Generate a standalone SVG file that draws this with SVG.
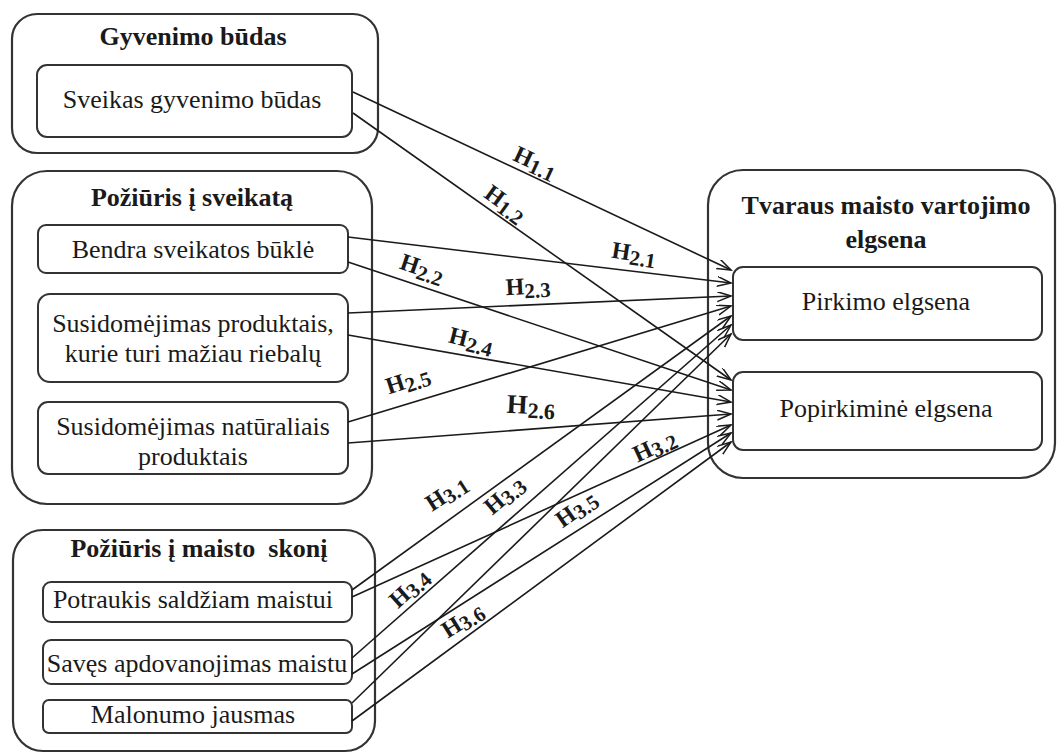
<svg xmlns="http://www.w3.org/2000/svg" width="1057" height="756" viewBox="0 0 1057 756">
<defs>
<style>
.outer{fill:none;stroke:#333;stroke-width:2.2}
.inner{fill:#fff;stroke:#333;stroke-width:2}
text{font-family:'Liberation Serif','Times New Roman','DejaVu Serif',serif}
.t{font-size:26px;fill:#1a1a1a;text-anchor:middle}
.b{font-weight:bold}
.con line{stroke:#1a1a1a;stroke-width:1.6;marker-end:url(#ah)}
.lbl{font-size:24px;font-weight:bold;fill:#1a1a1a;text-anchor:middle}
.sub{font-size:21px}
</style>
<marker id="ah" markerUnits="userSpaceOnUse" markerWidth="16" markerHeight="12" refX="14" refY="5" orient="auto">
<path d="M0,0 L14,5 L0,10" fill="none" stroke="#1a1a1a" stroke-width="1.5"/>
</marker>
</defs>
<rect width="1057" height="756" fill="#fff"/>

<g id="group-gyvenimo">
<rect class="outer" x="12" y="14" width="366" height="139" rx="25"/>
<text class="t b" x="193" y="45">Gyvenimo būdas</text>
</g>
<g id="node-sveikas">
<rect class="inner" x="37" y="65" width="315" height="72" rx="10"/>
<text class="t" x="192" y="108">Sveikas gyvenimo būdas</text>
</g>

<g id="group-poziuris-sveikata">
<rect class="outer" x="12" y="171" width="360" height="333" rx="35"/>
<text class="t b" x="192" y="206">Požiūris į sveikatą</text>
</g>
<g id="node-bendra">
<rect class="inner" x="38" y="225" width="310" height="48" rx="8"/>
<text class="t" x="193" y="258">Bendra sveikatos būklė</text>
</g>
<g id="node-riebalu">
<rect class="inner" x="38" y="294" width="310" height="88" rx="12"/>
<text class="t" x="193" y="332">Susidomėjimas produktais,</text>
<text class="t" x="193" y="362">kurie turi mažiau riebalų</text>
</g>
<g id="node-naturaliais">
<rect class="inner" x="38" y="402" width="310" height="72" rx="10"/>
<text class="t" x="193" y="435">Susidomėjimas natūraliais</text>
<text class="t" x="193" y="465">produktais</text>
</g>

<g id="group-poziuris-skoni">
<rect class="outer" x="13" y="530" width="362" height="221" rx="30"/>
<text class="t b" x="199" y="557" xml:space="preserve">Požiūris į maisto  skonį</text>
</g>
<g id="node-potraukis">
<rect class="inner" x="43" y="582" width="309" height="40" rx="8"/>
<text class="t" x="193" y="608">Potraukis saldžiam maistui</text>
</g>
<g id="node-saves">
<rect class="inner" x="43" y="640" width="309" height="44" rx="8"/>
<text class="t" x="197" y="672">Savęs apdovanojimas maistu</text>
</g>
<g id="node-malonumo">
<rect class="inner" x="43" y="700" width="309" height="33" rx="6"/>
<text class="t" x="193" y="723">Malonumo jausmas</text>
</g>

<g id="group-tvaraus">
<rect class="outer" x="708" y="170" width="347" height="308" rx="35"/>
<text class="t b" x="886" y="214">Tvaraus maisto vartojimo</text>
<text class="t b" x="886" y="248">elgsena</text>
</g>
<g id="node-pirkimo">
<rect class="inner" x="733" y="267" width="309" height="73" rx="10"/>
<text class="t" x="886" y="310">Pirkimo elgsena</text>
</g>
<g id="node-popirkimine">
<rect class="inner" x="733" y="372" width="309" height="78" rx="10"/>
<text class="t" x="886" y="417">Popirkiminė elgsena</text>
</g>

<g id="connectors" class="con">
<line x1="353" y1="92" x2="731" y2="270"/>
<line x1="353" y1="113" x2="731" y2="380"/>
<line x1="348" y1="237" x2="731" y2="283"/>
<line x1="348" y1="262" x2="731" y2="390"/>
<line x1="348" y1="313" x2="731" y2="296"/>
<line x1="348" y1="335" x2="731" y2="402"/>
<line x1="348" y1="422" x2="731" y2="306"/>
<line x1="348" y1="443" x2="731" y2="414"/>
<line x1="352" y1="590" x2="731" y2="316"/>
<line x1="352" y1="597" x2="731" y2="425"/>
<line x1="352" y1="658" x2="731" y2="325"/>
<line x1="352" y1="674" x2="731" y2="433"/>
<line x1="352" y1="703" x2="731" y2="334"/>
<line x1="352" y1="721" x2="731" y2="442"/>
</g>

<g id="labels">
<text class="lbl" transform="translate(535,163) rotate(25)" x="0" y="7">H<tspan class="sub" dy="4">1.1</tspan></text>
<text class="lbl" transform="translate(505,204) rotate(36)" x="0" y="7">H<tspan class="sub" dy="4">1.2</tspan></text>
<text class="lbl" transform="translate(634,254) rotate(9)" x="0" y="7">H<tspan class="sub" dy="4">2.1</tspan></text>
<text class="lbl" transform="translate(422,269) rotate(19)" x="0" y="7">H<tspan class="sub" dy="4">2.2</tspan></text>
<text class="lbl" transform="translate(528,287) rotate(-3)" x="0" y="7">H<tspan class="sub" dy="4">2.3</tspan></text>
<text class="lbl" transform="translate(471,341) rotate(14)" x="0" y="7">H<tspan class="sub" dy="4">2.4</tspan></text>
<text class="lbl" transform="translate(408,381) rotate(-18)" x="0" y="7">H<tspan class="sub" dy="4">2.5</tspan></text>
<text class="lbl" transform="translate(531,406) rotate(3)" x="0" y="8" style="font-size:27px">H<tspan class="sub" dy="4" style="font-size:22px">2.6</tspan></text>
<text class="lbl" transform="translate(447,494) rotate(-33)" x="0" y="7">H<tspan class="sub" dy="3">3.1</tspan></text>
<text class="lbl" transform="translate(655,447) rotate(-25)" x="0" y="7">H<tspan class="sub" dy="3">3.2</tspan></text>
<text class="lbl" transform="translate(505,496) rotate(-40)" x="0" y="7">H<tspan class="sub" dy="3">3.3</tspan></text>
<text class="lbl" transform="translate(410,589) rotate(-42)" x="0" y="7">H<tspan class="sub" dy="3">3.4</tspan></text>
<text class="lbl" transform="translate(577,510) rotate(-35)" x="0" y="7">H<tspan class="sub" dy="3">3.5</tspan></text>
<text class="lbl" transform="translate(463,621) rotate(-32)" x="0" y="7">H<tspan class="sub" dy="3">3.6</tspan></text>
</g>
</svg>
